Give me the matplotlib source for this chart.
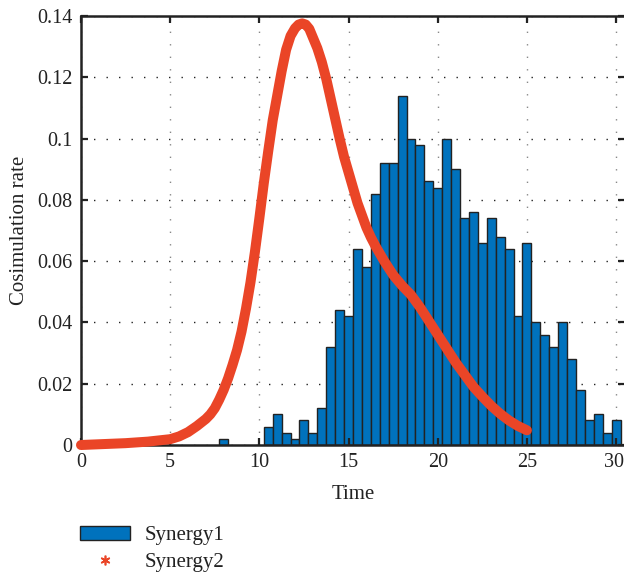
import matplotlib
matplotlib.use("Agg")
import matplotlib.pyplot as plt
from matplotlib.patches import Patch
from matplotlib.lines import Line2D
from matplotlib.transforms import ScaledTranslation

# ---- data ----
bin_centers = [8.0, 10.5, 11.0, 11.5, 12.0, 12.5, 13.0, 13.5, 14.0, 14.5, 15.0,
               15.5, 16.0, 16.5, 17.0, 17.5, 18.0, 18.5, 19.0, 19.5, 20.0,
               20.5, 21.0, 21.5, 22.0, 22.5, 23.0, 23.5, 24.0, 24.5, 25.0,
               25.5, 26.0, 26.5, 27.0, 27.5, 28.0, 28.5, 29.0, 29.5, 30.0]
synergy1 = [0.002, 0.006, 0.010, 0.004, 0.002, 0.008, 0.004, 0.012, 0.032, 0.044, 0.042,
            0.064, 0.058, 0.082, 0.092, 0.092, 0.114, 0.100, 0.098, 0.086, 0.084,
            0.100, 0.090, 0.074, 0.076, 0.066, 0.074, 0.068, 0.064, 0.042, 0.066,
            0.040, 0.036, 0.032, 0.040, 0.028, 0.018, 0.008, 0.010, 0.004, 0.008]

curve_t = [0.0, 1.25, 2.5, 3.75, 5.0, 5.5, 6.0, 6.5, 7.0, 7.25, 7.5, 7.75, 8.0,
           8.25, 8.5, 8.75, 9.0, 9.25, 9.5, 9.75, 10.0, 10.25, 10.5, 10.75, 11.0,
           11.25, 11.5, 11.75, 12.0, 12.2, 12.4, 12.6, 12.8, 13.0, 13.25, 13.5,
           13.75, 14.0, 14.25, 14.5, 14.75, 15.0, 15.25, 15.5, 15.75, 16.0, 16.25,
           16.5, 17.0, 17.5, 18.0, 18.5, 19.0, 19.5, 20.0, 20.5, 21.0, 21.5, 22.0,
           22.5, 23.0, 23.5, 24.0, 24.5, 25.0]
synergy2 = [0.0000, 0.0003, 0.0006, 0.0011, 0.0019, 0.0028, 0.0042, 0.0062, 0.0085,
            0.0100, 0.0120, 0.0148, 0.0180, 0.0218, 0.0262, 0.0310, 0.0370, 0.0445,
            0.0530, 0.0630, 0.0740, 0.0855, 0.0960, 0.1060, 0.1140, 0.1220, 0.1290,
            0.1335, 0.1360, 0.1372, 0.1376, 0.1372, 0.1358, 0.1330, 0.1295, 0.1250,
            0.1195, 0.1130, 0.1065, 0.1000, 0.0940, 0.0890, 0.0840, 0.0790, 0.0750,
            0.0710, 0.0678, 0.0650, 0.0600, 0.0555, 0.0520, 0.0490, 0.0450, 0.0405,
            0.0360, 0.0315, 0.0270, 0.0230, 0.0190, 0.0158, 0.0128, 0.0102, 0.0080,
            0.0062, 0.0048]

xticks = [0, 5, 10, 15, 20, 25, 30]
yticks = [0, 0.02, 0.04, 0.06, 0.08, 0.10, 0.12, 0.14]
ytick_labels = ["0", "0.02", "0.04", "0.06", "0.08", "0.1", "0.12", "0.14"]

BLUE = "#0072BD"
RED = "#EA4527"
INK = "#222222"
FS = 15
TFS = 14.5

plt.rcParams['font.family'] = ['Liberation Serif', 'DejaVu Serif']
plt.rcParams['font.size'] = FS

fig = plt.figure(figsize=(6.24, 5.73), dpi=100)
W, H = 624, 573
left, right, top, bottom = 81, 625, 16, 445
ax = fig.add_axes([left / W, 1 - bottom / H, (right - left) / W, (bottom - top) / H])

# grid (under bars)
for t in xticks:
    ax.axvline(t, color="#888888", lw=1.0, ls=(0, (1, 8)), zorder=0.3)
for v in yticks:
    ax.axhline(v, color="#222222", lw=1.0, ls=(0, (1, 8)), zorder=0.3)

ax.bar(bin_centers, synergy1, width=0.5, color=BLUE, edgecolor=INK,
       linewidth=1.0, zorder=1)
ax.plot(curve_t, synergy2, color=RED, lw=7.2, solid_capstyle="round",
        solid_joinstyle="round", zorder=3, clip_on=False)

ax.set_axisbelow("line")
ax.set_xlim(0, 30.5)
ax.set_ylim(0, 0.14)
ax.set_xticks(xticks)
ax.set_yticks(yticks)
ax.set_yticklabels(ytick_labels)
ax.tick_params(direction="in", length=5, width=1.6, top=True, right=True,
               labelsize=TFS, colors=INK, labelcolor=INK)
ax.tick_params(axis="y", pad=6)
ax.tick_params(axis="x", pad=6)
last = ax.get_xticklabels()[-1]
last.set_horizontalalignment("right")
last.set_transform(last.get_transform() + ScaledTranslation(8 / 100, 0, fig.dpi_scale_trans))
for s in ["left", "bottom", "top"]:
    ax.spines[s].set_linewidth(1.8)
    ax.spines[s].set_color(INK)
ax.spines["right"].set_visible(False)

ax.set_xlabel("Time", fontsize=FS, color=INK, labelpad=9)
ax.set_ylabel("Cosimulation rate", fontsize=FS, color=INK, labelpad=6)

handles = [
    Patch(facecolor=BLUE, edgecolor=INK, linewidth=1.0),
    Line2D([], [], color=RED, marker=(6, 2, 0), markersize=7, linestyle="none",
           markeredgewidth=1.2),
]
fig.legend(handles, ["Synergy1", "Synergy2"], loc="upper left",
           bbox_to_anchor=(80 / W, 1 - 526 / H), frameon=False, fontsize=FS,
           handlelength=2.4, handleheight=0.65, handletextpad=0.7,
           labelspacing=0.35, borderpad=0, borderaxespad=0, labelcolor=INK)

fig.savefig("out.png", dpi=100)
